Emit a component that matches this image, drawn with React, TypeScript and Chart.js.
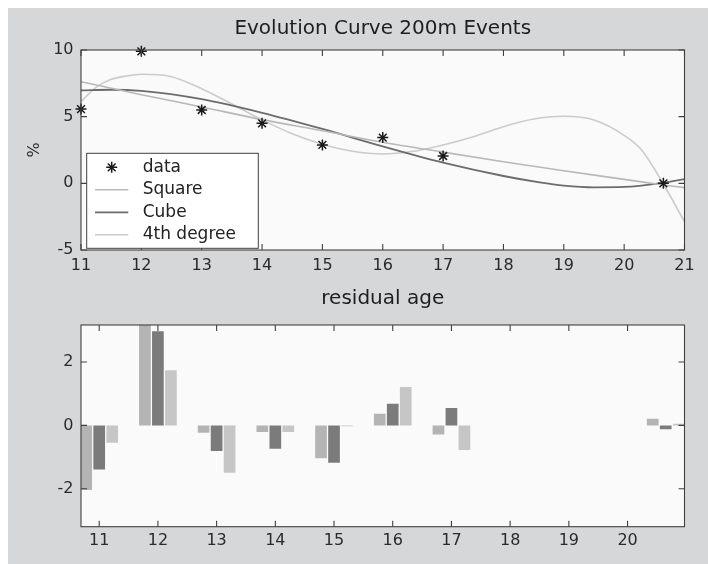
import React, { useEffect, useRef } from 'react';
import { Chart, registerables } from 'chart.js';

Chart.register(...registerables);

const FONT = '"DejaVu Sans", "Liberation Sans", sans-serif';

// ---- top plot: data points and fitted curves ----
const dataX = [11, 12, 13, 14, 15, 16, 17, 20.65];
const dataY = [5.57, 9.9, 5.5, 4.5, 2.88, 3.43, 2.05, 0.0];

const squareX = [11, 12, 13, 14, 15, 16, 17, 18, 19, 20, 20.65, 21];
const squareY = [7.62, 6.65, 5.73, 4.78, 3.94, 3.08, 2.34, 1.62, 0.94, 0.3, -0.12, -0.32];

const cubeX = [11, 11.5, 12, 13, 14, 15, 16, 17, 18, 18.6, 19, 19.5, 20, 20.65, 21];
const cubeY = [6.97, 7.02, 6.93, 6.31, 5.29, 4.08, 2.77, 1.55, 0.55, 0.07, -0.17, -0.3, -0.27, 0.05, 0.32];

const quartX = [11, 11.25, 11.5, 11.75, 12, 12.5, 13, 13.5, 14, 14.5, 15, 15.5, 16, 16.5, 17, 17.5, 18, 18.5, 19, 19.5, 20, 20.3, 20.65, 21];
const quartY = [6.13, 7.2, 7.8, 8.05, 8.18, 8.0, 7.1, 5.95, 4.76, 3.72, 2.93, 2.4, 2.2, 2.4, 2.88, 3.5, 4.25, 4.82, 5.03, 4.75, 3.6, 2.45, -0.05, -2.88];

// ---- bottom plot: residuals ----
const resX = [11, 12, 13, 14, 15, 16, 17, 20.65];
const resSquare = [-2.04, 3.3, -0.23, -0.21, -1.04, 0.37, -0.29, 0.21];
const resCube = [-1.39, 2.97, -0.81, -0.74, -1.18, 0.68, 0.55, -0.12];
const resQuart = [-0.55, 1.74, -1.5, -0.21, -0.03, 1.21, -0.78, 0.05];

const topTitle = 'Evolution Curve 200m Events';
const bottomTitle = 'residual age';
const yLabel = '%';

const pts = (xs: number[], ys: number[]) => xs.map((x, i) => ({ x, y: ys[i] }));

const bgPlugin = {
  id: 'plotBg',
  beforeDraw(chart: any) {
    const { ctx, chartArea: a } = chart;
    ctx.save();
    ctx.fillStyle = '#fafafa';
    ctx.fillRect(a.left, a.top, a.right - a.left, a.bottom - a.top);
    ctx.restore();
  },
};

const boxPlugin = {
  id: 'matlabBox',
  afterDatasetsDraw(chart: any) {
    const { ctx, chartArea: a, scales } = chart;
    const L = 6;
    ctx.save();
    ctx.strokeStyle = '#404040';
    ctx.lineWidth = 1.1;
    ctx.beginPath();
    scales.x.ticks.forEach((t: any) => {
      const px = scales.x.getPixelForValue(t.value);
      ctx.moveTo(px, a.bottom);
      ctx.lineTo(px, a.bottom - L);
      ctx.moveTo(px, a.top);
      ctx.lineTo(px, a.top + L);
    });
    scales.y.ticks.forEach((t: any) => {
      const py = scales.y.getPixelForValue(t.value);
      ctx.moveTo(a.left, py);
      ctx.lineTo(a.left + L, py);
      ctx.moveTo(a.right, py);
      ctx.lineTo(a.right - L, py);
    });
    ctx.stroke();
    ctx.strokeRect(a.left, a.top, a.right - a.left, a.bottom - a.top);
    ctx.restore();
  },
};

const legendPlugin = {
  id: 'boxLegend',
  afterDraw(chart: any) {
    const { ctx, chartArea: a } = chart;
    const left = a.left + 5.7;
    const right = a.left + 177.3;
    const bottom = a.bottom - 1.7;
    const top = bottom - 95;
    ctx.save();
    ctx.fillStyle = '#ffffff';
    ctx.fillRect(left, top, right - left, bottom - top);
    ctx.strokeStyle = '#404040';
    ctx.lineWidth = 1;
    ctx.strokeRect(left, top, right - left, bottom - top);
    const rows = [-81, -58.5, -36, -13.5];
    ctx.font = `17px ${FONT}`;
    ctx.textBaseline = 'middle';
    ctx.textAlign = 'left';
    chart.data.datasets.forEach((ds: any, i: number) => {
      const y = bottom + rows[i];
      ctx.strokeStyle = ds.borderColor;
      ctx.lineWidth = ds.borderWidth;
      ctx.beginPath();
      if (ds.showLine === false) {
        const cx = a.left + 30.7;
        const r = ds.pointRadius;
        const d = r * Math.SQRT1_2;
        ctx.moveTo(cx, y - r); ctx.lineTo(cx, y + r);
        ctx.moveTo(cx - r, y); ctx.lineTo(cx + r, y);
        ctx.moveTo(cx - d, y - d); ctx.lineTo(cx + d, y + d);
        ctx.moveTo(cx - d, y + d); ctx.lineTo(cx + d, y - d);
      } else {
        ctx.moveTo(a.left + 14, y);
        ctx.lineTo(a.left + 47.3, y);
      }
      ctx.stroke();
      ctx.fillStyle = '#222';
      ctx.fillText(ds.label, a.left + 61.7, y);
    });
    ctx.restore();
  },
};

const tickFont = { family: FONT, size: 16 };

function TopChart() {
  const ref = useRef<HTMLCanvasElement | null>(null);
  useEffect(() => {
    if (!ref.current) return;
    const chart = new Chart(ref.current, {
      type: 'line',
      data: {
        datasets: [
          {
            label: 'data',
            data: pts(dataX, dataY),
            showLine: false,
            clip: false,
            pointStyle: 'star',
            pointRadius: 5.5,
            pointBorderWidth: 1.5,
            borderWidth: 1.5,
            borderColor: '#1a1a1a',
            backgroundColor: '#1a1a1a',
          },
          {
            label: 'Square',
            data: pts(squareX, squareY),
            borderColor: '#b8b8b8',
            borderWidth: 1.6,
            pointRadius: 0,
            cubicInterpolationMode: 'monotone',
          },
          {
            label: 'Cube',
            data: pts(cubeX, cubeY),
            borderColor: '#6c6c6c',
            borderWidth: 1.8,
            pointRadius: 0,
            cubicInterpolationMode: 'monotone',
          },
          {
            label: '4th degree',
            data: pts(quartX, quartY),
            borderColor: '#cbcbcb',
            borderWidth: 1.6,
            pointRadius: 0,
            cubicInterpolationMode: 'monotone',
          },
        ],
      } as any,
      options: {
        animation: false,
        responsive: false,
        layout: { padding: { left: 0, right: 23.5, top: 0, bottom: 0 } },
        plugins: {
          legend: { display: false },
          tooltip: { enabled: false },
          title: {
            display: true,
            fullSize: false,
            text: topTitle,
            color: '#1e1e1e',
            font: { family: FONT, size: 20, weight: 'normal' },
            padding: { top: 9, bottom: 9 },
          },
        },
        scales: {
          x: {
            type: 'linear',
            min: 11,
            max: 21,
            grid: { display: false, drawTicks: false },
            border: { display: false },
            ticks: {
              stepSize: 1,
              autoSkip: false,
              maxRotation: 0,
              includeBounds: false,
              padding: 6.5,
              color: '#2a2a2a',
              font: tickFont,
            },
            afterFit: (s: any) => { s.height = 38; },
          },
          y: {
            type: 'linear',
            min: -5,
            max: 10,
            grid: { display: false, drawTicks: false },
            border: { display: false },
            ticks: { stepSize: 5, padding: 7.5, color: '#2a2a2a', font: tickFont },
            title: {
              display: true,
              text: yLabel,
              color: '#2a2a2a',
              font: { family: FONT, size: 16 },
              padding: { top: 17, bottom: 0 },
            },
            afterFit: (s: any) => { s.width = 73; },
          },
        },
      } as any,
      plugins: [bgPlugin, boxPlugin, legendPlugin],
    });
    return () => chart.destroy();
  }, []);
  return (
    <canvas
      ref={ref}
      width={700}
      height={280}
      style={{ position: 'absolute', left: 0, top: 0 }}
    />
  );
}

function BottomChart() {
  const ref = useRef<HTMLCanvasElement | null>(null);
  useEffect(() => {
    if (!ref.current) return;
    const chart = new Chart(ref.current, {
      type: 'bar',
      data: {
        datasets: [
          { label: 'Square', data: pts(resX, resSquare), backgroundColor: '#b4b4b4' },
          { label: 'Cube', data: pts(resX, resCube), backgroundColor: '#7b7b7b' },
          { label: '4th degree', data: pts(resX, resQuart), backgroundColor: '#c6c6c6' },
        ],
      } as any,
      options: {
        animation: false,
        responsive: false,
        datasets: { bar: { categoryPercentage: 0.664, barPercentage: 0.9 } },
        layout: { padding: { left: 0, right: 23.5, top: 0, bottom: 0 } },
        plugins: {
          legend: { display: false },
          tooltip: { enabled: false },
          title: {
            display: true,
            fullSize: false,
            text: bottomTitle,
            color: '#1e1e1e',
            font: { family: FONT, size: 20, weight: 'normal' },
            padding: { top: 17, bottom: 14 },
          },
        },
        scales: {
          x: {
            type: 'linear',
            min: 10.69,
            max: 20.97,
            offset: false,
            grid: { display: false, drawTicks: false, offset: false },
            border: { display: false },
            ticks: {
              stepSize: 1,
              autoSkip: false,
              maxRotation: 0,
              includeBounds: false,
              padding: 5,
              color: '#2a2a2a',
              font: tickFont,
            },
            afterFit: (s: any) => { s.height = 37.3; },
          },
          y: {
            type: 'linear',
            min: -3.2,
            max: 3.17,
            grid: { display: false, drawTicks: false },
            border: { display: false },
            ticks: { stepSize: 2, includeBounds: false, padding: 7.5, color: '#2a2a2a', font: tickFont },
            afterFit: (s: any) => { s.width = 73; },
          },
        },
      } as any,
      plugins: [bgPlugin, boxPlugin],
    });
    return () => chart.destroy();
  }, []);
  return (
    <canvas
      ref={ref}
      width={700}
      height={294}
      style={{ position: 'absolute', left: 0, top: 262 }}
    />
  );
}

export default function App() {
  return (
    <div
      style={{
        position: 'fixed',
        left: 8,
        top: 8,
        right: 0,
        bottom: 0,
        background: '#d6d7d9',
        overflow: 'hidden',
      }}
    >
      <TopChart />
      <BottomChart />
    </div>
  );
}
